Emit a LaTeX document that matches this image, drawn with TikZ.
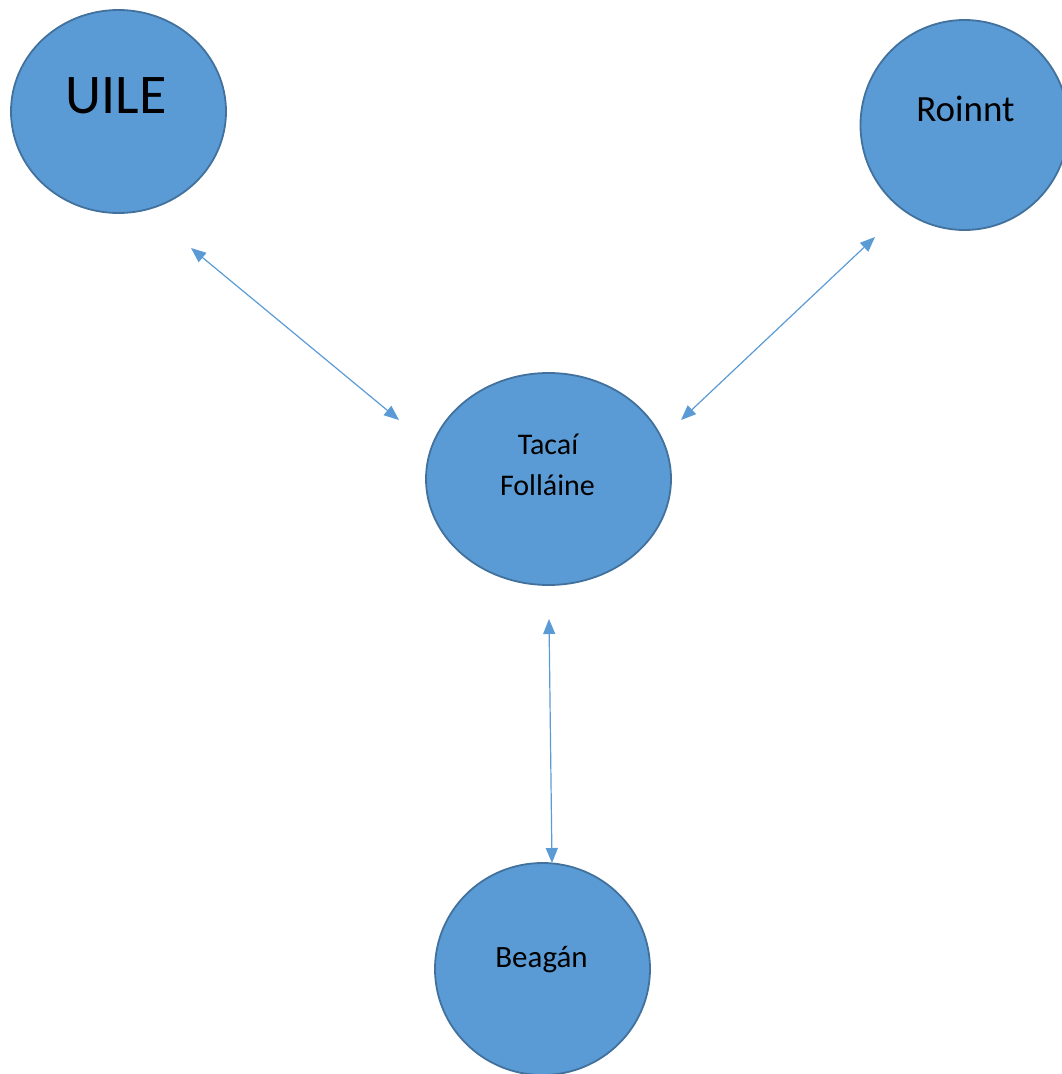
\documentclass[tikz,border=0pt]{standalone}
\usepackage{fontspec}
\setmainfont{Carlito}
\usetikzlibrary{shapes.geometric,arrows.meta}
\definecolor{fillblue}{HTML}{5B9BD5}
\definecolor{edgeblue}{HTML}{41719C}
\begin{document}
\begin{tikzpicture}[x=1pt,y=-1pt,
  bubble/.style={ellipse, draw=edgeblue, line width=1.8pt, fill=fillblue, inner sep=0pt},
  link/.style={draw=fillblue, line width=1.2pt,
    {Triangle[length=15pt,width=12pt]}-{Triangle[length=15pt,width=12pt]}},
  lbl/.style={text=black, inner sep=0pt, anchor=base}]
\useasboundingbox (0,0) rectangle (1062,1074);
% bubbles
\node[bubble, minimum width=215pt, minimum height=203pt] (uile) at (118.5,111.5) {};
\node[bubble, minimum width=208pt, minimum height=210pt] (roinnt) at (964.5,125) {};
\node[bubble, minimum width=245pt, minimum height=212pt] (tacai) at (548.5,479) {};
\node[bubble, minimum width=215pt, minimum height=212pt] (beagan) at (542.5,969) {};
% labels
\node[lbl, font=\fontsize{56}{60}\selectfont] (uileT) at (116,113) {UILE};
\node[lbl, font=\fontsize{37}{40}\selectfont] (roinntT) at (965.5,121) {Roinnt};
\node[lbl, font=\fontsize{30}{36}\selectfont] (tacaiA) at (548,454) {Tacaí};
\node[lbl, font=\fontsize{30}{36}\selectfont] (tacaiB) at (547.5,495) {Folláine};
\node[lbl, font=\fontsize{31}{36}\selectfont] (beaganT) at (541.5,967) {Beagán};
% connector ends
\coordinate (a1s) at (191,248);
\coordinate (a1e) at (399,420);
\coordinate (a2s) at (875,237);
\coordinate (a2e) at (681,420);
\coordinate (a3s) at (549,619);
\coordinate (a3e) at (552,863);
\draw[link] (a1s) -- (a1e);
\draw[link] (a2s) -- (a2e);
\draw[link] (a3s) -- (a3e);
\end{tikzpicture}
\end{document}
